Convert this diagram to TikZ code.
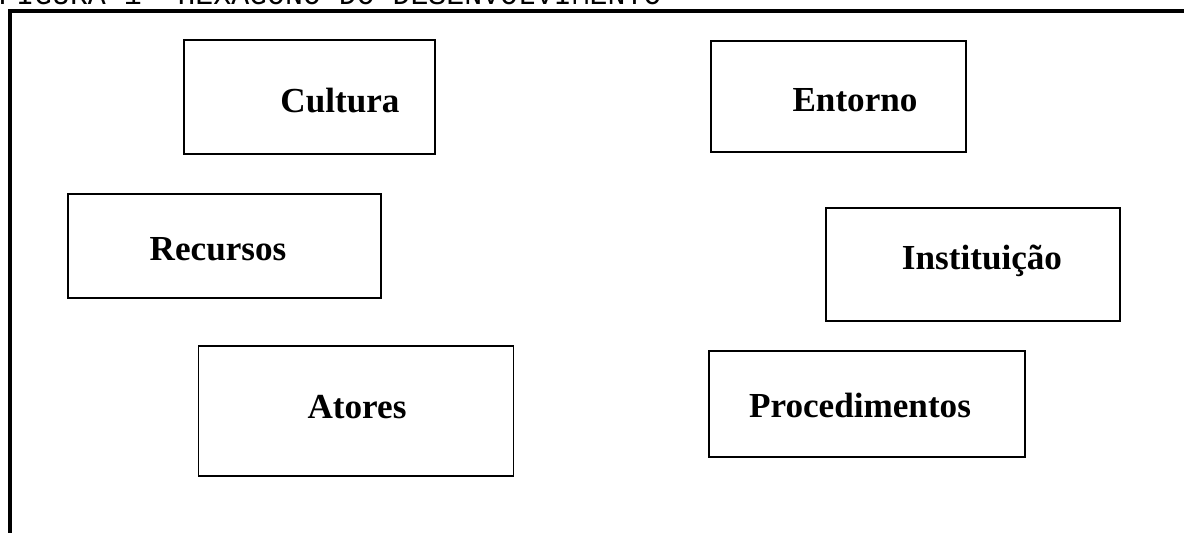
\documentclass[tikz,border=0pt]{standalone}
\usepackage{fontspec}
\setmainfont{Liberation Serif}
\newfontfamily\titlefont{Liberation Mono}
\usetikzlibrary{positioning}

\begin{document}
\begin{tikzpicture}[
        x=0.02cm, y=-0.02cm,
        box/.style={rectangle, draw, line width=0.9pt, inner sep=0pt},
        boxtext/.style={font=\fontsize{20}{24}\selectfont\bfseries, anchor=base, inner sep=0pt},
        frame/.style={line width=2.6pt}
    ]
        \useasboundingbox (0,0) rectangle (1184,533);
        \clip (0,0) rectangle (1184,533);

        % Title (cut off at the top)
        \node[font=\titlefont\fontsize{17}{20}\selectfont, anchor=base west, inner sep=0pt] (title) at (-2,5) {FIGURA 1- HEX\'AGONO DO DESENVOLVIMENTO};

        % Frame
        \coordinate (F1) at (10,540);
        \coordinate (F2) at (10,11);
        \coordinate (F3) at (1190,11);
        \draw[frame] (F1) -- (F2) -- (F3);

        % Boxes
        \node[box, minimum width=5.02cm, minimum height=2.28cm] (cultura) at (309.5,97) {};
        \node[box, minimum width=5.10cm, minimum height=2.22cm] (entorno) at (838.5,96.5) {};
        \node[box, minimum width=6.26cm, minimum height=2.08cm] (recursos) at (224.5,246) {};
        \node[box, minimum width=5.88cm, minimum height=2.26cm] (instituicao) at (973,264.5) {};
        \node[box, minimum width=6.30cm, minimum height=2.60cm] (atores) at (356,411) {};
        \node[box, minimum width=6.32cm, minimum height=2.12cm] (procedimentos) at (867,404) {};

        % Texts
        \node[boxtext] (tcultura) at (340,113) {Cultura};
        \node[boxtext] (tentorno) at (855,112) {Entorno};
        \node[boxtext] (trecursos) at (218,261) {Recursos};
        \node[boxtext] (tinstituicao) at (982,270) {Institui\c{c}\~ao};
        \node[boxtext] (tatores) at (357,419) {Atores};
        \node[boxtext] (tprocedimentos) at (860,418) {Procedimentos};
    \end{tikzpicture}
\end{document}
